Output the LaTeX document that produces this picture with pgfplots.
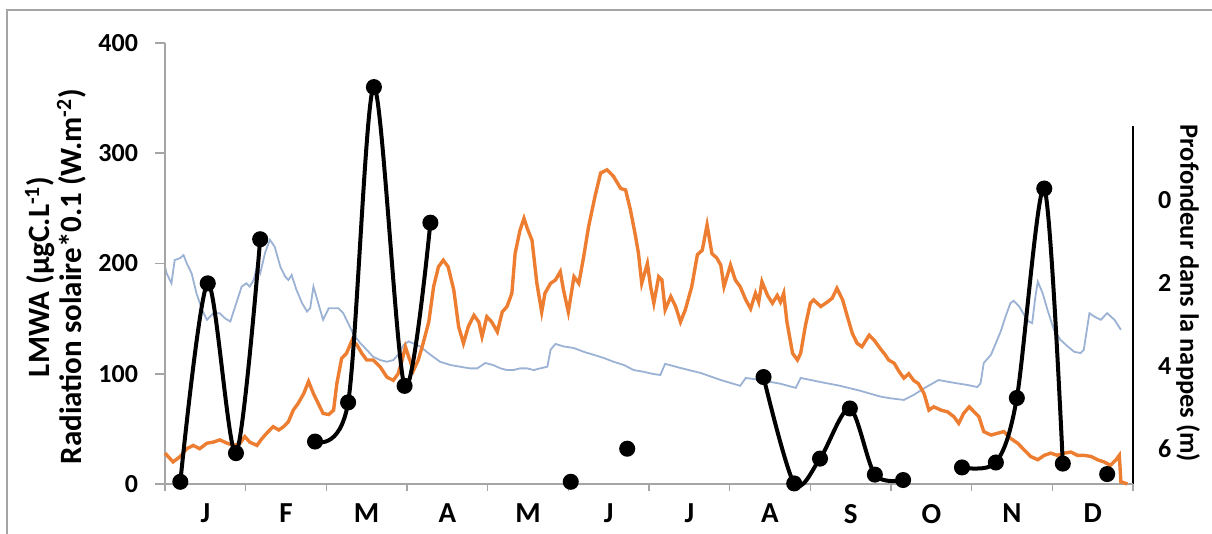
\documentclass[border=0pt]{standalone}
\usepackage{pgfplots}
\pgfplotsset{compat=1.18}
\usepackage{fontspec}
\setmainfont{Carlito}
\definecolor{orng}{RGB}{237,125,49}
\definecolor{lblue}{RGB}{155,178,212}
\definecolor{axgray}{RGB}{165,165,165}
\begin{document}
\begin{tikzpicture}[x=1pt,y=1pt]
\path[use as bounding box] (0,0) rectangle (606,267);
\draw[axgray, line width=0.75pt] (3.5,0) -- (3.5,262) -- (606,262);
% ---- right axis: depth of water table ----
\begin{axis}[
  at={(82.5pt,22pt)}, anchor=south west,
  scale only axis, width=484pt, height=182pt,
  xmin=0, xmax=12, ymin=-1.78, ymax=6.99, y dir=reverse,
  axis x line=none, axis y line*=right,
  y axis line style={black, line width=1pt},
  ytick={0,2,4,6}, major tick length=0pt,
  /pgf/number format/assume math mode=true,
  yticklabel style={font=\bfseries\fontsize{13}{13}\selectfont, xshift=9pt},
  ylabel={Profondeur dans la nappes (m)},
  ylabel style={font=\bfseries\fontsize{13.2}{13.2}\selectfont, rotate=180,
    at={(axis description cs:1.057,0.54)}, anchor=center},
  clip=false,
]
\addplot[lblue, line width=0.9pt] coordinates {
(0.00,1.61)(0.02,1.77)(0.08,2.01)(0.12,1.45)(0.19,1.40)(0.23,1.33)(0.27,1.53)(0.33,1.77)
(0.39,2.25)(0.46,2.65)(0.52,2.89)(0.60,2.73)(0.68,2.73)(0.74,2.85)(0.81,2.93)(0.87,2.57)
(0.95,2.09)(1.01,2.01)(1.05,2.09)(1.10,1.93)(1.14,1.61)(1.18,1.77)(1.24,1.28)(1.30,0.96)
(1.36,1.13)(1.43,1.61)(1.49,1.85)(1.53,1.93)(1.57,1.81)(1.63,2.17)(1.70,2.49)(1.76,2.69)
(1.80,2.61)(1.84,2.09)(1.90,2.49)(1.96,2.89)(2.03,2.61)(2.15,2.61)(2.21,2.73)(2.27,2.97)
(2.34,3.25)(2.42,3.45)(2.50,3.61)(2.58,3.78)(2.67,3.86)(2.75,3.90)(2.83,3.86)(2.89,3.73)
(2.96,3.49)(3.02,3.41)(3.16,3.53)(3.29,3.73)(3.41,3.90)(3.54,3.98)(3.66,4.02)(3.78,4.06)
(3.87,4.06)(3.97,3.93)(4.07,3.98)(4.16,4.06)(4.24,4.10)(4.32,4.10)(4.40,4.06)(4.49,4.06)
(4.57,4.10)(4.65,4.06)(4.74,4.02)(4.78,3.61)(4.84,3.47)(4.94,3.53)(5.07,3.57)(5.19,3.66)
(5.31,3.73)(5.44,3.81)(5.56,3.90)(5.69,3.98)(5.81,4.10)(5.93,4.14)(6.04,4.19)(6.14,4.22)
(6.20,3.95)(6.39,4.05)(6.64,4.17)(6.89,4.34)(7.13,4.48)(7.20,4.29)(7.38,4.34)(7.63,4.43)
(7.82,4.53)(7.88,4.29)(8.13,4.39)(8.37,4.48)(8.62,4.60)(8.87,4.74)(8.99,4.78)(9.16,4.82)
(9.28,4.70)(9.41,4.54)(9.59,4.34)(9.70,4.38)(9.82,4.42)(9.95,4.46)(10.07,4.51)(10.11,4.42)
(10.15,3.93)(10.24,3.73)(10.30,3.45)(10.36,3.17)(10.42,2.81)(10.48,2.49)(10.52,2.43)(10.59,2.57)
(10.65,2.77)(10.71,2.93)(10.75,2.97)(10.79,2.33)(10.82,1.97)(10.88,2.25)(10.94,2.65)(11.02,3.13)
(11.10,3.37)(11.19,3.53)(11.27,3.66)(11.35,3.69)(11.39,3.61)(11.46,2.73)(11.52,2.81)(11.60,2.89)
(11.68,2.73)(11.77,2.89)(11.85,3.13)
};
\end{axis}
% ---- main axis ----
\begin{axis}[
  at={(82.5pt,25pt)}, anchor=south west,
  scale only axis, width=484pt, height=220.5pt,
  xmin=0, xmax=12, ymin=0, ymax=400,
  axis lines*=left,
  axis line style={axgray, line width=0.9pt},
  tick align=outside,
  tick style={axgray, line width=0.8pt},
  xtick={0.5,1.5,...,11.5},
  xticklabels={J,F,M,A,M,J,J,A,S,O,N,D},
  major x tick style={draw=none},
  minor xtick={0,1,...,12},
  minor tick length=3.5pt,
  ytick={0,100,200,300,400},
  major tick length=5pt,
  /pgf/number format/assume math mode=true,
  xticklabel style={font=\bfseries\fontsize{14.5}{14.5}\selectfont, yshift=-1.5pt},
  yticklabel style={font=\bfseries\fontsize{13}{13}\selectfont, xshift=-5pt},
  ylabel={LMWA (µgC.L\textsuperscript{-1})\\Radiation solaire*0.1 (W.m\textsuperscript{-2})},
  ylabel style={font=\bfseries\fontsize{15.5}{16}\selectfont, align=center,
    at={(axis description cs:-0.113,0.47)}, anchor=center},
  clip=false,
]
\addplot[orng, line width=1.7pt] coordinates {
(0.00,28)(0.10,20)(0.19,25)(0.27,32)(0.35,35)(0.43,32)(0.52,37)(0.60,38)(0.68,40)(0.77,37)
(0.85,35)(0.93,37)(0.99,43)(1.05,38)(1.14,35)(1.20,41)(1.26,46)(1.34,52)(1.41,49)(1.47,52)
(1.53,56.5)(1.59,67)(1.65,73)(1.72,82)(1.78,93)(1.84,82)(1.90,73)(1.96,64)(2.03,63)(2.09,67)
(2.13,91)(2.19,114)(2.25,118.5)(2.32,130.6)(2.38,126)(2.44,118.5)(2.50,112.5)(2.58,112.5)(2.67,106)(2.75,97)
(2.83,94)(2.89,100)(2.94,112.5)(2.98,124.5)(3.02,115.5)(3.08,103)(3.14,112.5)(3.20,127.6)(3.27,147)(3.33,179)
(3.39,197)(3.45,203)(3.51,197)(3.58,176)(3.64,142.7)(3.70,127.6)(3.76,142.7)(3.83,153)(3.89,147)(3.93,133.6)
(3.99,151.7)(4.05,147)(4.12,138)(4.18,156)(4.24,161)(4.30,173)(4.34,209)(4.40,230)(4.45,241)(4.49,232)
(4.55,221)(4.61,182)(4.67,156)(4.71,173)(4.78,182)(4.84,185)(4.90,192.6)(4.94,176)(5.00,156)(5.07,188)
(5.13,182)(5.19,206)(5.25,233)(5.33,260.6)(5.40,282)(5.48,285)(5.56,279)(5.65,268)(5.71,266.7)(5.77,248.5)
(5.83,226)(5.87,209)(5.91,182)(5.98,200)(6.02,179)(6.06,164)(6.12,188)(6.16,185)(6.20,158)(6.27,170)
(6.33,161)(6.39,147)(6.45,158)(6.53,179)(6.60,208)(6.66,212)(6.72,235)(6.78,209)(6.84,205)(6.89,198.6)
(6.93,179)(7.01,198.6)(7.07,185)(7.13,179)(7.20,167)(7.26,159)(7.32,173)(7.36,165)(7.40,183.5)(7.47,171)
(7.53,164)(7.59,171)(7.63,165)(7.67,173)(7.71,147)(7.78,118.5)(7.84,112.5)(7.88,118.5)(7.94,144)(8.00,164)
(8.04,167)(8.13,161)(8.21,165)(8.27,168.4)(8.33,177.5)(8.40,167)(8.46,151.7)(8.52,136.7)(8.58,127.6)(8.64,124.5)
(8.73,135)(8.79,130.6)(8.85,124.5)(8.93,117)(8.97,112.5)(9.04,109.5)(9.10,102)(9.16,96)(9.22,100)(9.28,94)
(9.34,91)(9.41,82)(9.47,67)(9.53,70)(9.62,67)(9.70,65.5)(9.78,61)(9.84,55)(9.90,64)(9.97,70)
(10.03,65.5)(10.09,61)(10.15,47.5)(10.24,44.4)(10.32,46)(10.40,47.5)(10.48,41.5)(10.57,37)(10.65,31)(10.73,25)
(10.82,22)(10.90,26)(10.98,28)(11.06,26)(11.15,28)(11.23,29)(11.31,26)(11.39,26)(11.48,25)(11.56,22)
(11.64,20)(11.72,17)(11.79,22)(11.83,26)(11.85,2)(11.93,0)
};
\pgfplotsset{lmwa/.style={black, line width=2pt, smooth, tension=0.5, mark=*, mark size=3pt, mark options={solid, fill=black}}}
\addplot[lmwa] coordinates {(0.19,2)(0.53,182)(0.88,28)(1.18,222)};
\addplot[lmwa] coordinates {(1.86,38.5)(2.27,74)(2.59,360)(2.97,89)(3.29,237)};
\addplot[lmwa, only marks] coordinates {(5.03,2)(5.73,32)};
\addplot[lmwa] coordinates {(7.42,97)(7.80,0.5)(8.12,23)(8.49,68.5)(8.80,8.5)(9.15,3.6)};
\addplot[lmwa] coordinates {(9.88,15)(10.30,19.5)(10.56,78)(10.90,268)(11.13,18.5)};
\addplot[lmwa, only marks] coordinates {(11.68,9)};
\end{axis}
\end{tikzpicture}
\end{document}
